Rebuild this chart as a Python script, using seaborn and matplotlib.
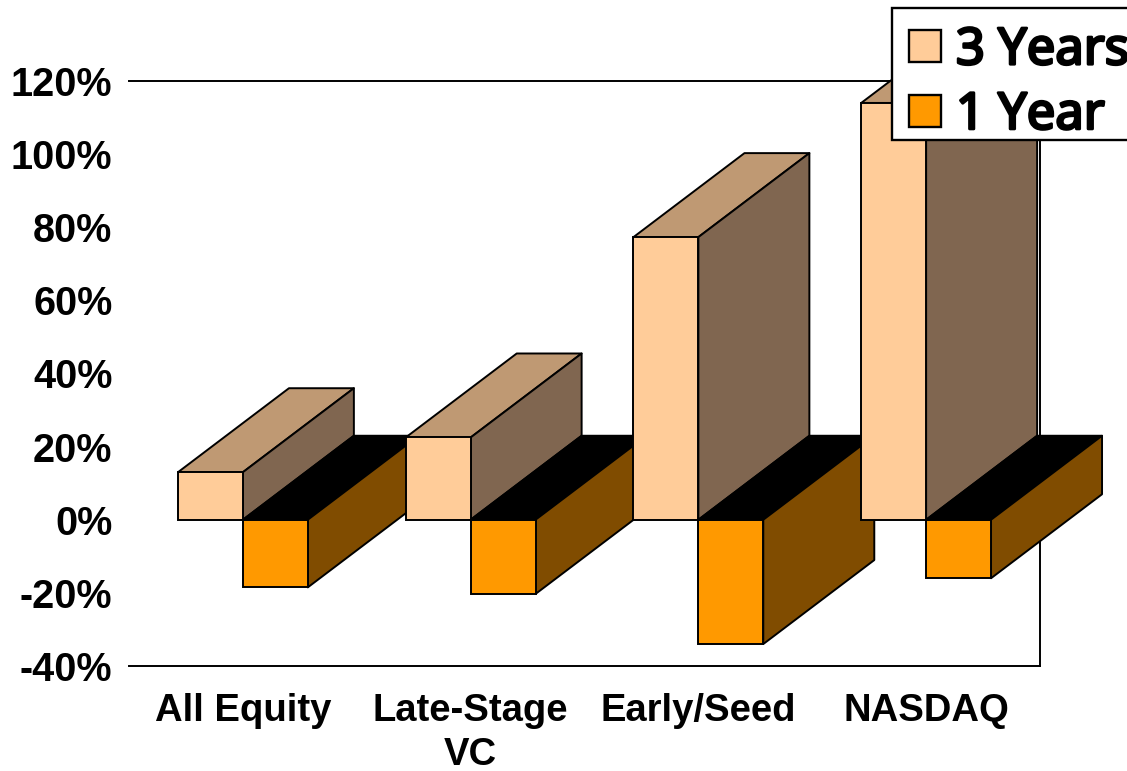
import matplotlib
matplotlib.use("Agg")
import matplotlib.pyplot as plt
from matplotlib.patches import Polygon, Rectangle
import matplotlib.patheffects as pe
import pandas as pd
import seaborn as sns

# Returns by investment class and holding period, in percent
categories = ["All Equity", "Late-Stage\nVC", "Early/Seed", "NASDAQ"]
three_years = [13, 22.5, 77.3, 114]
one_year = [-18.5, -20.3, -34, -16]
y_ticks = [-40, -20, 0, 20, 40, 60, 80, 100, 120]
period_names = ["3 Years", "1 Year"]

PALE = "#FFCC99"
PALE_TOP = "#BF9973"
PALE_SIDE = "#806650"
ORANGE = "#FF9900"
ORANGE_TOP = "#000000"
ORANGE_SIDE = "#804C00"
EDGE_W = 1.4

sns.set_theme(style="white")
plt.rcParams["font.family"] = ["Liberation Sans", "DejaVu Sans"]

df = pd.DataFrame({
    "group": categories * 2,
    "period": [period_names[0]] * 4 + [period_names[1]] * 4,
    "value": three_years + one_year,
})

W, H = 1127, 771
fig = plt.figure(figsize=(W / 100, H / 100), dpi=100, facecolor="white")
ax = fig.add_axes([129 / W, 1 - 666 / H, 911 / W, 585 / H])

sns.barplot(
    data=df, x="group", y="value", hue="period", hue_order=period_names,
    palette=[PALE, ORANGE], saturation=1, width=0.57, gap=0, errorbar=None,
    edgecolor="black", linewidth=EDGE_W, legend=False, ax=ax,
)

ax.set_xlim(-0.5, 3.5)
ax.set_ylim(-40, 120)
ax.set_xlabel("")
ax.set_ylabel("")

# Oblique depth of the extruded bars, in data units
depth_x = 111 / 227.75
depth_y = 84 / (585 / 160)


def add_face(points, color, z):
    ax.add_patch(Polygon(points, closed=True, facecolor=color, edgecolor="black",
                         linewidth=EDGE_W, joinstyle="round", clip_on=False, zorder=z))


def extrude(bar, top_color, side_color, z):
    x0, x1 = bar.get_x(), bar.get_x() + bar.get_width()
    y0, y1 = sorted((0, bar.get_height()))
    add_face([(x0, y1), (x1, y1), (x1 + depth_x, y1 + depth_y), (x0 + depth_x, y1 + depth_y)],
             top_color, z)
    add_face([(x1, y0), (x1, y1), (x1 + depth_x, y1 + depth_y), (x1 + depth_x, y0 + depth_y)],
             side_color, z)
    bar.set_zorder(z + 0.1)
    bar.set_clip_on(False)


for i, (pale_bar, orange_bar) in enumerate(zip(ax.containers[0], ax.containers[1])):
    extrude(pale_bar, PALE_TOP, PALE_SIDE, 3 + i)
    extrude(orange_bar, ORANGE_TOP, ORANGE_SIDE, 3.5 + i)

# Frame: top, right and bottom rules only, sitting behind the bars
for name, spine in ax.spines.items():
    spine.set_visible(name != "left")
    spine.set_color("black")
    spine.set_linewidth(1.4)
    spine.set_zorder(1)

ax.set_yticks(y_ticks, [f"{v}%" for v in y_ticks], fontsize=28.5, fontweight="bold", color="black")
ax.set_xticks(range(len(categories)), categories, fontsize=27.5, fontweight="bold",
              color="black", linespacing=1.3)
ax.tick_params(axis="y", length=0, pad=12)
ax.tick_params(axis="x", length=0, pad=19.5)

# Legend box runs off the right edge of the canvas
fig.add_artist(Rectangle((892 / W, 1 - 140 / H), 300 / W, 132 / H, transform=fig.transFigure,
                         facecolor="white", edgecolor="black", linewidth=1.7, zorder=19))
handles = [Rectangle((0, 0), 1, 1, facecolor=c, edgecolor="black", linewidth=1.7)
           for c in (PALE, ORANGE)]
leg = fig.legend(
    handles, period_names, loc="upper left", bbox_to_anchor=(892 / W, 1 - 8 / H),
    bbox_transform=fig.transFigure, borderaxespad=0, frameon=False,
    handlelength=0.62, handleheight=0.6, handletextpad=0.3, borderpad=0.34,
    labelspacing=0.27,
    prop={"family": "Noto Sans", "weight": "bold", "size": 36.5},
)
leg.set_zorder(20)
for text in leg.get_texts():
    text.set_color("black")
    text.set_path_effects([pe.withStroke(linewidth=2, foreground="black")])

fig.savefig("out.png", dpi=100)
